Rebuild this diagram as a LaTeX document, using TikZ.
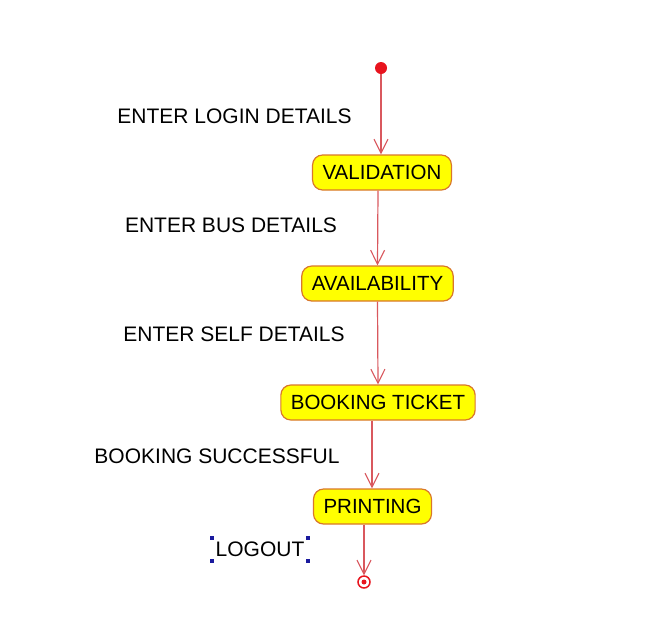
\documentclass[tikz,border=0pt]{standalone}
\usepackage{fontspec}
\setmainfont{Liberation Sans}
\usetikzlibrary{arrows.meta}
\definecolor{boxfill}{HTML}{FFFF00}
\definecolor{boxline}{HTML}{D9772B}
\definecolor{flow}{HTML}{D9585E}
\definecolor{dotred}{HTML}{E8141E}
\definecolor{selblue}{HTML}{1A1A9E}
\tikzset{
  statebox/.style={draw=boxline, line width=1.2pt, fill=boxfill, rounded corners=10pt,
    minimum height=35pt, inner xsep=10pt, inner ysep=0pt,
    font=\fontsize{20.5}{23}\selectfont},
  lbl/.style={font=\fontsize{21}{24}\selectfont, inner sep=0pt},
  flowline/.style={draw=flow, line width=1.2pt, -{Straight Barb[length=14pt,width=14pt,line width=1.1pt]}},
  selmark/.style={fill=selblue, minimum size=4pt, inner sep=0pt}
}
\begin{document}
\begin{tikzpicture}[x=1pt,y=-1pt]
\useasboundingbox (0,0) rectangle (663,638);
\fill[white] (0,0) rectangle (663,638);

\node[circle, fill=dotred, minimum size=12pt, inner sep=0pt] (init) at (381,68) {};
\node[statebox] (val) at (382,172.5) {VALIDATION};
\node[statebox] (avail) at (377.5,283.5) {AVAILABILITY};
\node[statebox] (book) at (378,402.5) {BOOKING TICKET};
\node[statebox] (print) at (372.5,506.5) {PRINTING};
\node[circle, draw=dotred, line width=1.5pt, fill=white, minimum size=12pt, inner sep=0pt] (final) at (364,582) {};
\node[circle, fill=dotred, minimum size=5pt, inner sep=0pt] (finaldot) at (364,582) {};

\draw[flowline] (init) -- (val.north -| init);
\draw[flowline] ([xshift=-4pt]val.south) -- (avail.north);
\draw[flowline] (avail.south) -- (book.north);
\draw[flowline] ([xshift=-6pt]book.south) -- ([xshift=-0.5pt]print.north);
\draw[flowline] ([xshift=-8.5pt]print.south) -- (final.north);

\node[lbl] (l1) at (234.5,116) {ENTER LOGIN DETAILS};
\node[lbl] (l2) at (231,225) {ENTER BUS DETAILS};
\node[lbl] (l3) at (234,334) {ENTER SELF DETAILS};
\node[lbl] (l4) at (217,456) {BOOKING SUCCESSFUL};
\node[lbl] (l5) at (260,549) {LOGOUT};

\node[selmark] (s1) at (212,538) {};
\node[selmark] (s2) at (308,538) {};
\node[selmark] (s3) at (212,561) {};
\node[selmark] (s4) at (308,561) {};
\end{tikzpicture}
\end{document}
